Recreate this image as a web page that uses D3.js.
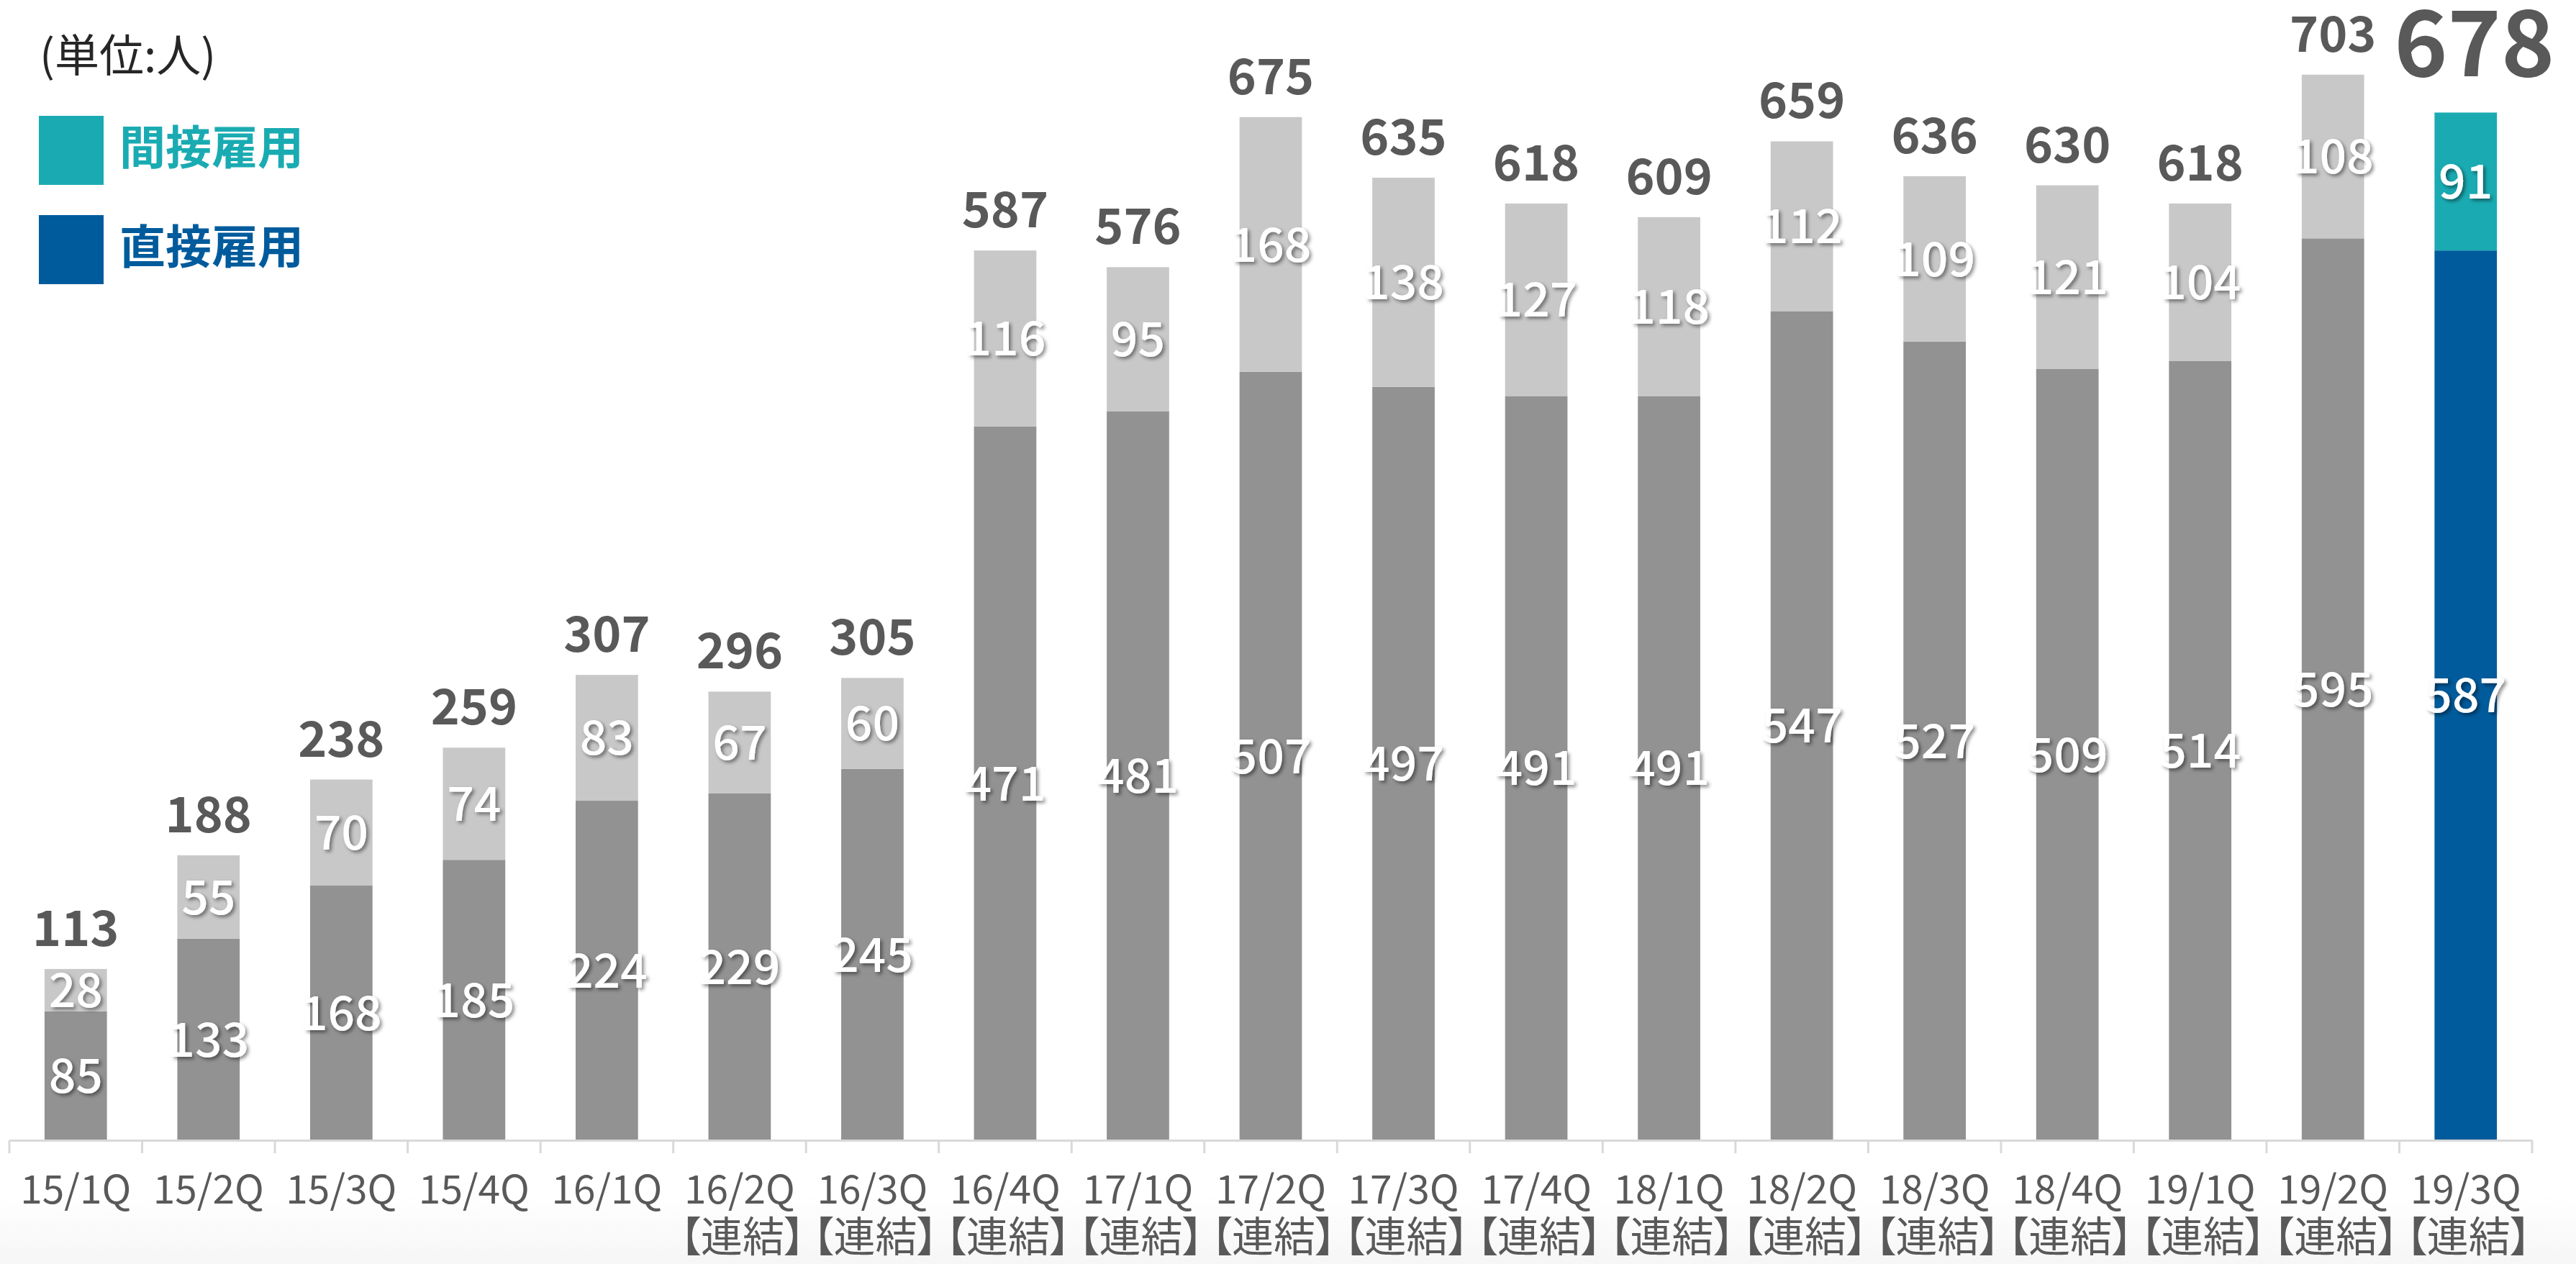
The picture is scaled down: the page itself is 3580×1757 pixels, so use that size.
<!DOCTYPE html>
<html>
<head>
<meta charset="utf-8">
<script src="https://cdn.jsdelivr.net/npm/d3@7"></script>
<style>
  html, body { margin: 0; padding: 0; background: #fff; }
  svg { display: block; }
  .palt { font-feature-settings: "palt" 1; }
</style>
</head>
<body>
<div id="chart"></div>
<script>
const width = 3580;
const height = 1757;

// data
const quarters = ["15/1Q", "15/2Q", "15/3Q", "15/4Q", "16/1Q", "16/2Q", "16/3Q", "16/4Q", "17/1Q", "17/2Q",
    "17/3Q", "17/4Q", "18/1Q", "18/2Q", "18/3Q", "18/4Q", "19/1Q", "19/2Q", "19/3Q"];
const consolidated = [false, false, false, false, false, true, true, true, true, true,
    true, true, true, true, true, true, true, true, true];
const direct = [85, 133, 168, 185, 224, 229, 245, 471, 481, 507, 497, 491, 491, 547, 527, 509, 514, 595, 587];
const indirect = [28, 55, 70, 74, 83, 67, 60, 116, 95, 168, 138, 127, 118, 112, 109, 121, 104, 108, 91];
const seriesNames = ["間接雇用", "直接雇用"];
const unitLabel = "(単位:人)";
const consolidatedLabel = "【連結】";

const colorIndirect = "#1aabb2";
const colorDirect = "#005b9c";
const greyIndirect = "#c8c8c8";
const greyDirect = "#929292";
const textGrey = "#595959";
const font = "'Noto Sans CJK JP', 'Noto Sans', sans-serif";

const data = quarters.map((q, i) => ({
    q,
    direct: direct[i],
    indirect: indirect[i],
    total: direct[i] + indirect[i],
    consolidated: consolidated[i],
    last: i === quarters.length - 1,
}));

const svg = d3.select("#chart").append("svg")
    .attr("width", width)
    .attr("height", height);

// soft bottom fade of the slide background
const defs = svg.append("defs");
const grad = defs.append("linearGradient").attr("id", "fade")
    .attr("x1", 0).attr("x2", 0).attr("y1", 0).attr("y2", 1);
grad.append("stop").attr("offset", "0%").attr("stop-color", "#ffffff");
grad.append("stop").attr("offset", "100%").attr("stop-color", "#f6f6f6");
svg.append("rect").attr("x", 0).attr("y", 1660).attr("width", width).attr("height", height - 1660)
    .attr("fill", "url(#fade)");

const shadow = defs.append("filter").attr("id", "shadow")
    .attr("x", "-20%").attr("y", "-20%").attr("width", "140%").attr("height", "140%");
shadow.append("feDropShadow")
    .attr("dx", 3).attr("dy", 3).attr("stdDeviation", 2.5)
    .attr("flood-color", "#000").attr("flood-opacity", 0.45);

// ===== SCALES =====
const x = d3.scaleBand()
    .domain(quarters)
    .range([13, 3519])
    .paddingInner(0.53)
    .paddingOuter(0.265);

const y = d3.scaleLinear()
    .domain([0, 750])
    .range([1585, 1585 - 750 * 2.107]);

// ===== BARS =====
const g = svg.append("g");

g.selectAll(".bar-direct")
    .data(data)
    .enter()
    .append("rect")
    .attr("class", "bar-direct")
    .attr("x", (d) => x(d.q))
    .attr("width", x.bandwidth())
    .attr("y", (d) => y(d.direct))
    .attr("height", (d) => y(0) - y(d.direct))
    .attr("fill", (d) => (d.last ? colorDirect : greyDirect));

g.selectAll(".bar-indirect")
    .data(data)
    .enter()
    .append("rect")
    .attr("class", "bar-indirect")
    .attr("x", (d) => x(d.q))
    .attr("width", x.bandwidth())
    .attr("y", (d) => y(d.total))
    .attr("height", (d) => y(d.direct) - y(d.total))
    .attr("fill", (d) => (d.last ? colorIndirect : greyIndirect));

// ===== SEGMENT LABELS =====
const cx = (d) => x(d.q) + x.bandwidth() / 2;

g.selectAll(".lbl-direct")
    .data(data)
    .enter()
    .append("text")
    .attr("x", cx)
    .attr("y", (d) => (y(0) + y(d.direct)) / 2)
    .attr("dy", "0.36em")
    .attr("text-anchor", "middle")
    .attr("font-family", font)
    .attr("font-weight", 500)
    .attr("font-size", 66)
    .attr("fill", "#fff")
    .attr("filter", "url(#shadow)")
    .text((d) => d.direct);

g.selectAll(".lbl-indirect")
    .data(data)
    .enter()
    .append("text")
    .attr("x", cx)
    .attr("y", (d) => (y(d.direct) + y(d.total)) / 2)
    .attr("dy", "0.36em")
    .attr("text-anchor", "middle")
    .attr("font-family", font)
    .attr("font-weight", 500)
    .attr("font-size", 66)
    .attr("fill", "#fff")
    .attr("filter", "url(#shadow)")
    .text((d) => d.indirect);

// ===== TOTAL LABELS =====
g.selectAll(".lbl-total")
    .data(data)
    .enter()
    .append("text")
    .attr("x", (d) => cx(d) + (d.last ? 12 : 0))
    .attr("y", (d) => y(d.total) - (d.last ? 50 : 32))
    .attr("text-anchor", "middle")
    .attr("font-family", font)
    .attr("font-weight", 700)
    .attr("font-size", (d) => (d.last ? 126 : 68))
    .attr("fill", textGrey)
    .text((d) => d.total);

// ===== AXIS =====
const xAxis = svg.append("g")
    .attr("transform", `translate(0,${y(0)})`)
    .call(d3.axisBottom(x).tickSize(0).tickFormat(""));
xAxis.select(".domain").attr("stroke", "#d9d9d9").attr("stroke-width", 3);

const step = x.step();
const x0 = x.range()[0];
xAxis.selectAll(".sep")
    .data(d3.range(quarters.length + 1))
    .enter()
    .append("line")
    .attr("x1", (i) => x0 + i * step)
    .attr("x2", (i) => x0 + i * step)
    .attr("y1", 0)
    .attr("y2", 18)
    .attr("stroke", "#d9d9d9")
    .attr("stroke-width", 3);

const labels = svg.append("g").attr("font-family", font).attr("fill", textGrey);
labels.selectAll(".q")
    .data(data)
    .enter()
    .append("text")
    .attr("x", cx)
    .attr("y", 1673)
    .attr("text-anchor", "middle")
    .attr("font-size", 55)
    .text((d) => d.q);

// proportional brackets so 【連結】 fits inside one category
labels.selectAll(".c")
    .data(data.filter((d) => d.consolidated))
    .enter()
    .append("text")
    .attr("class", "palt")
    .attr("x", (d) => cx(d) + 4)
    .attr("y", 1740)
    .attr("text-anchor", "middle")
    .attr("font-size", 58)
    .text(consolidatedLabel);

// ===== LEGEND =====
const legend = svg.append("g").attr("font-family", font);
legend.append("text")
    .attr("x", 55)
    .attr("y", 100)
    .attr("font-size", 62)
    .attr("fill", "#262626")
    .text(unitLabel);

const legendColors = [colorIndirect, colorDirect];
const legendRows = legend.selectAll(".row")
    .data(seriesNames)
    .enter()
    .append("g")
    .attr("transform", (d, i) => `translate(54,${161 + i * 138})`);
legendRows.append("rect")
    .attr("width", 90)
    .attr("height", 96)
    .attr("fill", (d, i) => legendColors[i]);
legendRows.append("text")
    .attr("x", 112)
    .attr("y", 67)
    .attr("font-size", 64)
    .attr("font-weight", 700)
    .attr("fill", (d, i) => legendColors[i])
    .text((d) => d);
</script>
</body>
</html>
